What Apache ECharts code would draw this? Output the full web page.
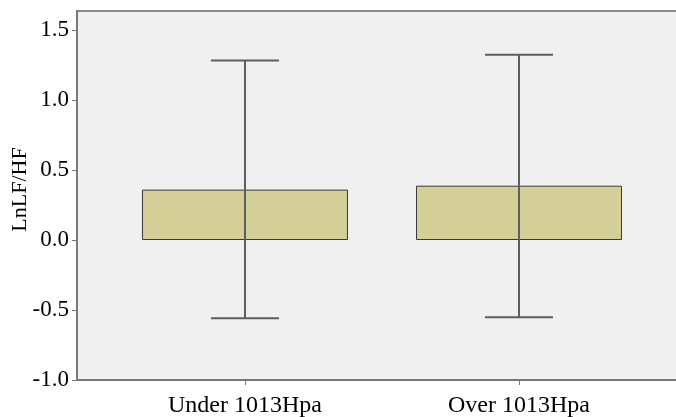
<!DOCTYPE html>
<html>
<head>
<meta charset="utf-8">
<script src="https://cdn.jsdelivr.net/npm/echarts@6/dist/echarts.min.js"></script>
<style>html,body{margin:0;padding:0;background:#fff}#c{width:676px;height:417px}</style>
</head>
<body>
<div id="c"></div>
<script>
var categories = ['Under 1013Hpa', 'Over 1013Hpa'];
var means = [0.36, 0.388];
var upper = [1.283, 1.323];
var lower = [-0.558, -0.551];
var yTicks = [-1.0, -0.5, 0.0, 0.5, 1.0, 1.5];

var FONT = "'Liberation Serif', 'Times New Roman', serif";
var chart = echarts.init(document.getElementById('c'));
var barData = categories.map(function (c, i) { return [i, means[i]]; });
var errData = categories.map(function (c, i) { return [i, lower[i], upper[i]]; });

chart.setOption({
  animation: false,
  grid: {
    left: 77, right: -11, top: 11, bottom: 37,
    outerBoundsMode: 'none', containLabel: false,
    show: true, backgroundColor: '#f0f0f0', borderColor: '#8a8a8a', borderWidth: 2
  },
  xAxis: {
    type: 'value', min: -0.6131, max: 1.6131,
    splitLine: { show: false },
    axisLine: { show: true, onZero: false, lineStyle: { color: '#777', width: 2 } },
    axisTick: { show: true, customValues: [0, 1], length: 5, lineStyle: { color: '#777' } },
    axisLabel: {
      customValues: [0, 1], margin: 14,
      formatter: function (v) { return categories[Math.round(v)]; },
      fontFamily: FONT, fontSize: 24, color: '#000'
    }
  },
  yAxis: {
    type: 'value', min: -1, max: 1.636, interval: 0.5,
    name: 'LnLF/HF', nameLocation: 'middle', nameRotate: 90, nameGap: 46,
    nameMoveOverlap: false,
    nameTextStyle: { fontFamily: FONT, fontSize: 22, color: '#000', padding: [0, 0, 0, 12] },
    splitLine: { show: false },
    axisLine: { show: true, onZero: false, lineStyle: { color: '#777', width: 2 } },
    axisTick: { show: true, length: 5, lineStyle: { color: '#777' } },
    axisLabel: {
      showMaxLabel: false, margin: 8,
      formatter: function (v) { return yTicks.some(function (t) { return Math.abs(t - v) < 1e-6; }) ? v.toFixed(1) : ''; },
      fontFamily: FONT, fontSize: 23, color: '#000'
    }
  },
  series: [
    {
      type: 'bar', data: barData, barWidth: 206,
      itemStyle: { color: '#d3cf96', borderColor: '#3a3a3a', borderWidth: 1 }
    },
    {
      type: 'custom', data: errData, z: 5,
      renderItem: function (params, api) {
        var x = api.value(0);
        var lo = api.coord([x, api.value(1)]);
        var hi = api.coord([x, api.value(2)]);
        var hw = 34;
        var st = { stroke: '#5e5e5e', lineWidth: 2 };
        return {
          type: 'group', children: [
            { type: 'line', shape: { x1: lo[0], y1: lo[1], x2: hi[0], y2: hi[1] }, style: st },
            { type: 'line', shape: { x1: hi[0] - hw, y1: hi[1], x2: hi[0] + hw, y2: hi[1] }, style: st },
            { type: 'line', shape: { x1: lo[0] - hw, y1: lo[1], x2: lo[0] + hw, y2: lo[1] }, style: st }
          ]
        };
      }
    }
  ]
});
</script>
</body>
</html>
